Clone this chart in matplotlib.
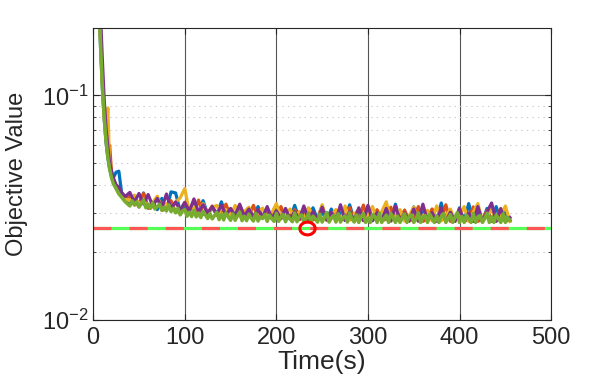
import numpy as np
import matplotlib
matplotlib.use('Agg')
import matplotlib.pyplot as plt
from matplotlib import ticker

plt.rcParams['font.family'] = ['Liberation Sans', 'DejaVu Sans']
plt.rcParams['mathtext.fontset'] = 'custom'
plt.rcParams['mathtext.rm'] = 'Liberation Sans'
plt.rcParams['mathtext.it'] = 'Liberation Sans'
plt.rcParams['lines.scale_dashes'] = False

######
# data (objective values in units of 1e-3)
t_early = [6, 8, 10, 12, 14, 16, 18, 20, 22, 25, 28, 31, 35]
t = t_early + list(range(40, 456, 5))             # runs 1-4 logged every 5 s
t_fine = t_early + list(np.arange(40, 455.1, 2.5))  # run 5 logged every 2.5 s

blue = [280, 165, 108, 79, 62, 53, 47, 44, 43, 45.5, 46, 37, 34,
        33.5, 35.0, 32.0, 36.8, 31.5, 33.4, 31.0, 34.8, 30.8, 37.2,
        36.8, 30.5, 32.2, 30.0, 33.5, 29.8, 34.0, 29.6, 31.6, 29.5,
        33.6, 29.2, 31.2, 29.0, 32.4, 28.8, 30.6, 28.7, 32.0, 28.5,
        30.6, 28.4, 32.2, 28.3, 30.4, 28.2, 32.4, 28.1, 30.4, 28.0,
        31.6, 28.0, 30.2, 27.9, 31.2, 27.9, 30.0, 27.8, 32.6, 27.8,
        30.4, 27.8, 31.8, 27.7, 30.2, 27.7, 31.2, 27.7, 32.8, 27.6,
        30.3, 27.6, 31.9, 27.6, 30.2, 27.6, 31.1, 27.6, 33.2, 27.6,
        30.4, 27.5, 31.6, 27.5, 33.0, 27.5, 30.6, 27.5, 31.4, 27.5,
        32.0, 27.5, 30.4, 27.6]

orange = [320, 180, 115, 83, 65, 54, 60, 46, 42, 39, 37, 36, 35,
          35.5, 32.5, 33.0, 36.6, 31.5, 32.0, 35.4, 30.8, 31.2, 34.0,
          30.2, 30.6, 33.4, 29.8, 30.2, 34.2, 29.5, 29.9, 32.2, 29.2,
          29.6, 32.8, 28.9, 29.4, 31.6, 28.7, 29.2, 32.4, 28.5, 29.0,
          31.2, 28.3, 28.8, 32.0, 28.1, 28.7, 31.0, 28.0, 28.6, 31.4,
          27.9, 28.5, 32.2, 27.8, 28.4, 30.9, 27.8, 28.4, 31.6, 27.7,
          28.3, 32.5, 27.7, 28.3, 31.0, 27.6, 28.2, 31.8, 27.6, 28.2,
          30.9, 27.6, 28.2, 32.0, 27.5, 28.2, 31.2, 27.5, 28.1, 32.6,
          27.5, 28.1, 31.0, 27.5, 28.1, 31.9, 27.5, 28.1, 30.8, 27.5,
          28.1, 31.4, 27.5, 28.0]

yellow = [310, 175, 112, 80, 64, 88, 48, 44, 41, 38.5, 36.5, 35.5, 34.5,
          34.0, 36.0, 32.6, 34.6, 32.0, 33.4, 35.6, 31.4, 33.0, 31.0,
          33.4, 35.0, 38.5, 30.2, 32.0, 30.0, 33.0, 29.6, 31.6, 32.4,
          29.2, 31.0, 29.0, 32.4, 28.8, 30.4, 31.8, 28.6, 30.2, 31.5,
          28.4, 30.0, 33.0, 28.2, 29.8, 31.2, 28.1, 30.4, 28.0, 31.6,
          29.6, 28.0, 32.6, 27.9, 29.4, 31.0, 27.8, 32.2, 27.8, 29.6,
          31.1, 27.7, 29.4, 32.0, 27.7, 30.4, 33.6, 27.6, 29.2, 31.0,
          27.6, 29.2, 31.8, 27.6, 29.0, 30.8, 27.6, 32.2, 27.6, 29.0,
          31.2, 27.5, 29.0, 32.0, 27.5, 30.2, 33.0, 27.5, 29.0, 31.1,
          27.5, 29.0, 32.2, 27.5]

purple = [420, 230, 145, 97, 72, 59, 50, 46, 43, 40, 39, 37, 35.5,
          37.0, 33.5, 36.6, 32.8, 36.2, 32.2, 34.8, 31.6, 36.4, 31.2,
          33.6, 30.8, 33.4, 30.5, 34.6, 30.2, 32.6, 29.9, 32.0, 29.7,
          32.4, 29.4, 31.4, 29.2, 32.8, 29.0, 31.2, 28.8, 31.0, 28.6,
          32.0, 28.4, 30.6, 28.3, 31.4, 28.2, 30.4, 28.1, 32.2, 28.0,
          30.4, 27.9, 31.8, 27.9, 30.2, 27.8, 32.6, 27.8, 30.3, 27.7,
          31.6, 27.7, 32.4, 27.7, 30.1, 27.6, 31.4, 27.6, 32.2, 27.6,
          30.0, 27.6, 31.2, 27.6, 32.8, 27.5, 30.1, 27.5, 31.6, 27.5,
          30.2, 27.5, 31.4, 27.5, 30.0, 27.5, 32.0, 27.5, 30.3, 33.2,
          27.5, 31.2, 27.5, 28.6]

green = [300, 170, 110, 80, 63, 53, 47, 43, 40.5, 38.5, 36.5, 35.2, 33.6,
         32.2, 34.0, 32.6, 33.6, 31.8, 33.0, 34.2, 31.6, 32.8, 31.4,
         33.2, 31.2, 32.0, 32.8, 30.8, 31.8, 30.6, 32.6, 30.4, 31.4,
         30.0, 31.4, 29.4, 30.6, 31.0, 29.0, 30.2, 28.9, 30.8, 28.8,
         30.0, 28.6, 30.4, 29.4, 28.3, 29.8, 28.2, 29.2, 30.2, 28.0,
         29.6, 27.9, 30.0, 28.8, 27.8, 29.7, 27.8, 29.2, 30.2, 27.7,
         29.0, 27.7, 29.6, 28.4, 27.6, 29.9, 27.6, 28.8, 28.3, 29.5,
         27.5, 29.3, 28.3, 27.5, 29.9, 27.5, 28.8, 29.5, 27.4, 29.1,
         28.2, 27.4, 30.0, 27.4, 28.9, 29.4, 27.4, 28.3, 29.8, 27.3,
         29.0, 28.2, 27.3, 29.6, 27.3, 28.7, 30.1, 27.3, 28.4, 29.2,
         27.3, 29.7, 27.3, 28.5, 29.1, 27.3, 30.0, 28.2, 27.3, 29.4,
         27.2, 28.8, 29.8, 27.2, 28.4, 27.2, 29.5, 28.9, 27.2, 29.9,
         27.2, 28.3, 29.3, 27.2, 29.8, 28.6, 27.2, 29.0, 27.2, 28.5,
         29.7, 27.2, 28.9, 29.4, 27.2, 28.2, 30.0, 27.2, 28.7, 29.2,
         27.2, 29.6, 28.3, 27.2, 29.1, 27.2, 28.8, 29.8, 27.2, 28.4,
         29.5, 27.2, 28.6, 30.1, 27.2, 28.9, 27.2, 29.3, 28.2, 27.2,
         29.8, 27.2, 28.7, 29.2, 27.2, 28.4, 29.9, 27.2, 28.8, 27.2,
         29.4, 28.3, 27.2, 29.7, 27.2, 28.6, 27.8]

best_value = 0.0258
best_time = 233

runs = [(t, blue, '#0072BD'), (t, orange, '#D95319'), (t, yellow, '#EDB120'),
        (t, purple, '#7E2F8E'), (t_fine, green, '#77AC30')]
for tx, s, c in runs:
    assert len(s) == len(tx), (c, len(s), len(tx))

#######################################################################################
fig = plt.figure(figsize=(6.09, 3.81), dpi=100)
ax = fig.add_axes([0.153, 0.160, 0.752, 0.767])

for tx, s, c in runs:
    lw = 2.5 if c == '#77AC30' else 2.3
    ax.plot(np.array(tx), np.array(s) * 1e-3, color=c, lw=lw)

# reference optimum line: red / green alternating dashes
ax.axhline(best_value, color='#55FF55', lw=2.3)
ax.axhline(best_value, color='#FF5555', lw=2.3, dashes=(13, 13))

# red ellipse marker
th = np.linspace(0, 2 * np.pi, 60)
ell = np.column_stack([1.2 * np.cos(th), np.sin(th)])
ax.plot([best_time], [best_value], marker=ell, ms=11, mfc='none', mec='#FF0000', mew=2.2)

ax.set_yscale('log')
ax.set_xlim(0, 500)
ax.set_ylim(0.01, 0.2)
ax.set_xticks([0, 100, 200, 300, 400, 500])
ax.yaxis.set_major_locator(ticker.FixedLocator([0.01, 0.1]))
ax.yaxis.set_major_formatter(ticker.FixedFormatter([r'$10^{-2}$', r'$10^{-1}$']))
ax.yaxis.set_minor_locator(ticker.LogLocator(base=10, subs=np.arange(2, 10)))
ax.yaxis.set_minor_formatter(ticker.NullFormatter())

ax.grid(which='major', color='#555555', lw=0.8, ls='-')
ax.grid(which='minor', axis='y', color='#cccccc', lw=0.8, ls=(0, (1, 3)))
ax.set_axisbelow(True)

ax.tick_params(which='both', direction='in', top=True, right=True, colors='#262626', labelsize=17)
ax.tick_params(which='major', length=4)
ax.tick_params(which='minor', length=2.5)
ax.tick_params(axis='x', pad=5)
for sp in ax.spines.values():
    sp.set_color('#262626')
    sp.set_linewidth(0.8)

ax.set_xlabel('Time(s)', fontsize=19, color='#262626', labelpad=1)
ax.set_ylabel('Objective Value', fontsize=17, color='#262626')
ax.yaxis.set_label_coords(-0.142, 0.5)

plt.savefig('out.png', dpi=100)
plt.close()
